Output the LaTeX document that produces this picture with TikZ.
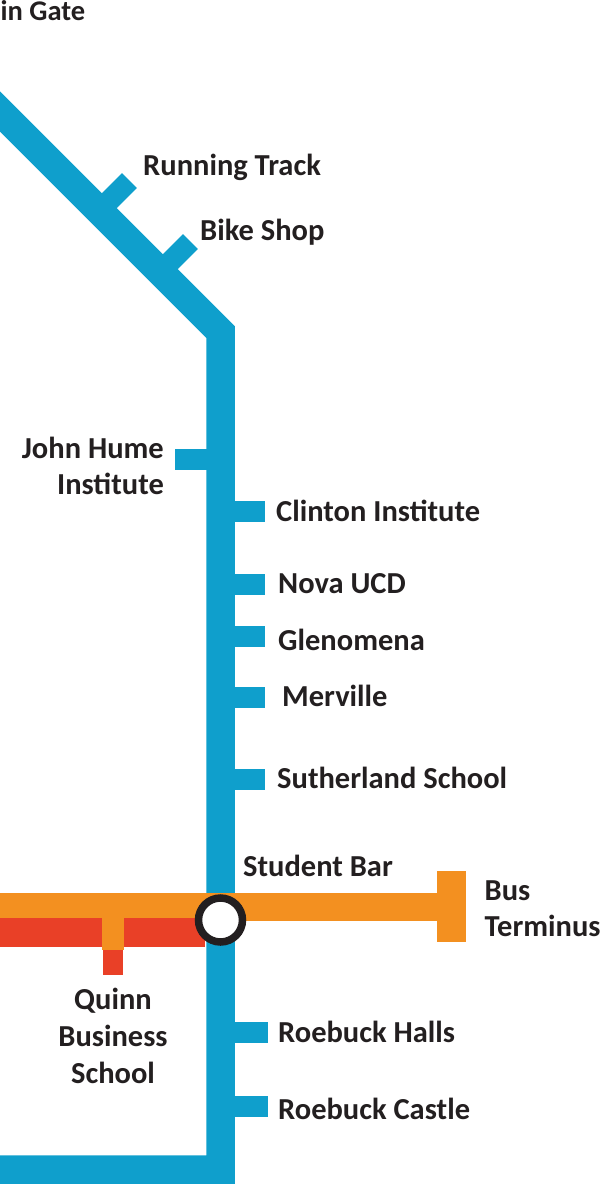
\documentclass[tikz,border=0pt]{standalone}
\usepackage{fontspec}
\setmainfont{Carlito}
\definecolor{linkblue}{HTML}{0F9FCC}
\definecolor{linkorange}{HTML}{F39020}
\definecolor{linkred}{HTML}{E94027}
\definecolor{inkdark}{HTML}{231F20}
\tikzset{
  x=1pt,y=-1pt,
  lab/.style={font=\fontsize{30.5}{36}\selectfont\bfseries,text=inkdark,inner sep=0pt,anchor=base west},
  labc/.style={lab,anchor=base,align=center},
  labr/.style={lab,anchor=base east},
  stub/.style={linkblue,line width=21pt},
  mainline/.style={linkblue,line width=28.5pt,line join=miter,miter limit=10}
}
\begin{document}
\begin{tikzpicture}
\useasboundingbox (0,0) rectangle (600,1184);
\begin{scope}
\clip (0,0) rectangle (600,1184);
\coordinate (d0) at (-20.5,91);
\coordinate (d1) at (220.5,332);
\coordinate (d2) at (220.5,1169.5);
\coordinate (d3) at (-10,1169.5);
\draw[mainline] (d0) -- (d1) -- (d2) -- (d3);
% diagonal stubs
\draw[stub] (105,205) -- (129.5,180.5);
\draw[stub] (166,266) -- (190.5,241.5);
% horizontal stubs
\draw[stub] (175,459.5) -- (210,459.5);
\draw[stub] (230,511.5) -- (265,511.5);
\draw[stub] (230,584.5) -- (265,584.5);
\draw[stub] (230,636.5) -- (265,636.5);
\draw[stub] (230,697.5) -- (265,697.5);
\draw[stub] (230,779.5) -- (265,779.5);
\draw[stub] (230,1032.5) -- (268,1032.5);
\draw[stub] (230,1106.5) -- (268,1106.5);
% red
\fill[linkred] (0,918) rectangle (205,947);
\fill[linkred] (103,940) rectangle (123,975);
% orange
\fill[linkorange] (0,893) rectangle (220,918);
\fill[linkorange] (220,893) rectangle (440,921);
\fill[linkorange] (102,915) rectangle (124,950);
\fill[linkorange] (437,871) rectangle (466,942);
\node[circle,draw=inkdark,fill=white,line width=7.5pt,minimum size=44pt,inner sep=0pt] (hub) at (220.5,920) {};
\node[lab,font=\fontsize{28.5}{36}\selectfont\bfseries] (t0) at (0.5,20) {in Gate};
\node[lab] (t1) at (143,175) {Running Track};
\node[lab] (t2) at (200,240) {Bike Shop};
\node[labr] (t3a) at (164,458) {John Hume};
\node[labr] (t3b) at (164,494) {Institute};
\node[lab] (t4) at (276,521) {Clinton Institute};
\node[lab] (t5) at (278,593) {Nova UCD};
\node[lab] (t6) at (278,650) {Glenomena};
\node[lab] (t7) at (282,706) {Merville};
\node[lab] (t8) at (277,788) {Sutherland School};
\node[lab] (t9) at (243,876) {Student Bar};
\node[lab] (t10a) at (484.5,900) {Bus};
\node[lab] (t10b) at (484.5,936) {Terminus};
\node[labc] (t11a) at (113,1009) {Quinn};
\node[labc] (t11b) at (113,1046) {Business};
\node[labc] (t11c) at (113,1083) {School};
\node[lab] (t12) at (278,1042) {Roebuck Halls};
\node[lab] (t13) at (278,1119) {Roebuck Castle};
\end{scope}
\end{tikzpicture}
\end{document}
